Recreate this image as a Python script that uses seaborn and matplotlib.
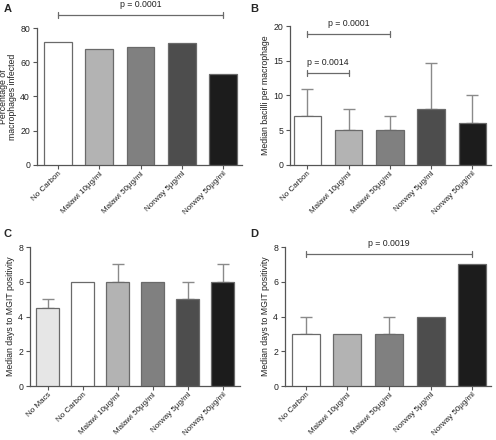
import matplotlib
matplotlib.use("Agg")
import matplotlib.pyplot as plt
import seaborn as sns
import pandas as pd

sns.set_theme(style="ticks")
plt.rcParams['font.family'] = ['Liberation Sans', 'DejaVu Sans']

# ---- data ----
cats5 = ["No Carbon", "Malawi 10μg/ml", "Malawi 50μg/ml", "Norway 5μg/ml", "Norway 50μg/ml"]
cats6 = ["No Macs"] + cats5
colors5 = ["#ffffff", "#b3b3b3", "#808080", "#4d4d4d", "#1c1c1c"]
colors6 = ["#e6e6e6"] + colors5

pct_infected = [72, 68, 69, 71, 53]
bacilli_median = [7, 5, 5, 8, 6]
bacilli_upper = [11, 8, 7, 14.7, 10]
mgit_c_median = [4.5, 6, 6, 6, 5, 6]
mgit_c_upper = [5, None, 7, None, 6, 7]
mgit_d_median = [3, 3, 3, 4, 7]
mgit_d_upper = [4, None, 4, None, None]

W, H = 496, 440
fig = plt.figure(figsize=(W / 100, H / 100), dpi=100)

def add_ax(l, r, t, b):
    return fig.add_axes([l / W, 1 - b / H, (r - l) / W, (b - t) / H])

AX_COL = "#555555"

def draw(ax, cats, vals, colors, ylim, yticks, ylabel, xlim, upper=None):
    df = pd.DataFrame({"cat": cats, "val": vals})
    sns.barplot(data=df, x="cat", y="val", hue="cat", palette=colors, legend=False,
                edgecolor="#6a6a6a", linewidth=0.9, width=0.67, ax=ax, zorder=3)
    if upper is not None:
        for p, v, u in zip(ax.patches, vals, upper):
            if u is None:
                continue
            xc = p.get_x() + p.get_width() / 2
            ax.errorbar([xc], [v], yerr=[[0], [u - v]], fmt="none", ecolor="#8a8a8a",
                        elinewidth=1.0, capsize=4, capthick=1.0, zorder=2)
    ax.set_ylim(*ylim)
    ax.set_yticks(yticks)
    ax.set_xlim(*xlim)
    ax.set_xlabel("")
    ax.set_ylabel(ylabel, fontsize=6.3, color="#222222", labelpad=2, linespacing=1.0)
    ax.tick_params(axis="y", labelsize=6.3, length=3, width=0.8, color=AX_COL, labelcolor="#222222", pad=2)
    ax.tick_params(axis="x", labelsize=5.8, length=3, width=0.8, color=AX_COL, labelcolor="#222222", pad=1)
    for lab in ax.get_xticklabels():
        lab.set_rotation(45)
        lab.set_ha("right")
        lab.set_rotation_mode("anchor")
    sns.despine(ax=ax)
    for s in ["left", "bottom"]:
        ax.spines[s].set_color(AX_COL)
        ax.spines[s].set_linewidth(0.9)

def bracket(ax, i, j, y, text):
    ax.plot([i, j], [y, y], color="#6a6a6a", lw=0.9, clip_on=False, zorder=5)
    h = (ax.get_ylim()[1] - ax.get_ylim()[0]) * 0.022
    for x in (i, j):
        ax.plot([x, x], [y - h, y + h], color="#6a6a6a", lw=0.9, clip_on=False, zorder=5)
    ax.text((i + j) / 2, y + h * 2.0, text, ha="center", va="bottom", fontsize=6.3,
            color="#222222", clip_on=False)

# Panel A
axA = add_ax(37, 242, 28, 165)
draw(axA, cats5, pct_infected, colors5, (0, 80), [0, 20, 40, 60, 80],
     "Percentage of\nmacrophages infected", (-0.5, 4.45))
bracket(axA, 0, 4, 87.6, "p = 0.0001")

# Panel B
axB = add_ax(290, 491, 26, 165)
draw(axB, cats5, bacilli_median, colors5, (0, 20), [0, 5, 10, 15, 20],
     "Median bacilli per macrophage", (-0.42, 4.45), upper=bacilli_upper)
bracket(axB, 0, 2, 18.8, "p = 0.0001")
bracket(axB, 0, 1, 13.2, "p = 0.0014")

# Panel C
axC = add_ax(30, 240, 247, 386)
draw(axC, cats6, mgit_c_median, colors6, (0, 8), [0, 2, 4, 6, 8],
     "Median days to MGIT positivity", (-0.5, 5.5), upper=mgit_c_upper)

# Panel D
axD = add_ax(285, 491, 247, 386)
draw(axD, cats5, mgit_d_median, colors5, (0, 8), [0, 2, 4, 6, 8],
     "Median days to MGIT positivity", (-0.5, 4.45), upper=mgit_d_upper)
bracket(axD, 0, 4, 7.6, "p = 0.0019")

# panel letters
for x, y, t in [(4, 4, "A"), (250, 4, "B"), (4, 229, "C"), (250, 229, "D")]:
    fig.text(x / W, 1 - y / H, t, fontsize=8, fontweight="bold", va="top", ha="left")

fig.savefig("out.png", dpi=100)
